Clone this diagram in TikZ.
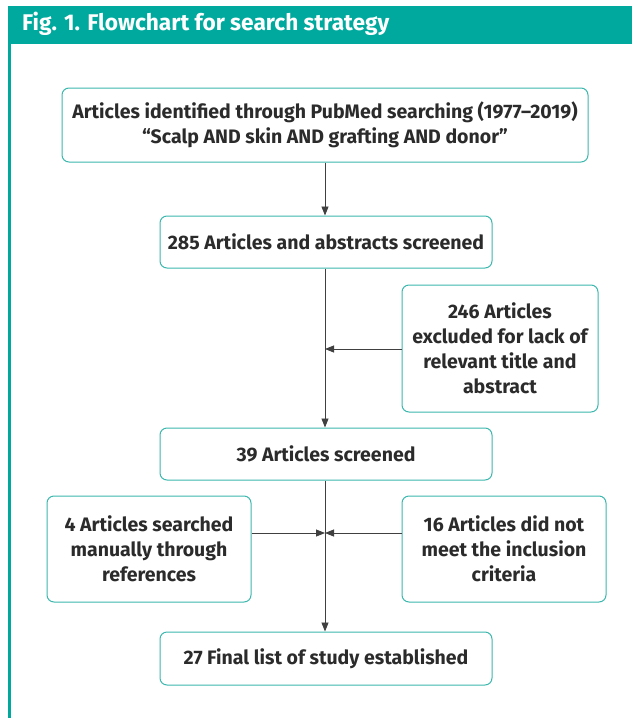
\documentclass[tikz,border=0pt]{standalone}
\usepackage{fontspec}
\setmainfont{Fira Sans}
\usetikzlibrary{arrows.meta}
\definecolor{teal1}{HTML}{00A99D}
\definecolor{boxc}{HTML}{3DB8AE}
\definecolor{txt}{HTML}{2B2B2B}
\begin{document}
\begin{tikzpicture}[x=1pt,y=-1pt,
  box/.style={draw=boxc,line width=1pt,rounded corners=7pt,align=center,text=txt,font=\fontsize{19.5}{25}\selectfont\bfseries,inner sep=0pt},
  conn/.style={draw=txt!90,line width=0.8pt},
  arr/.style={conn,-{Triangle[length=9pt,width=7pt]}}]
\useasboundingbox (0,0) rectangle (632,718);
\fill[white] (0,0) rectangle (632,718);
\fill[teal1] (8,6) rectangle (632,44);
\node[anchor=west,text=white,font=\fontsize{22.7}{26}\selectfont\bfseries,inner sep=0pt] (title) at (22,24) {Fig. 1. Flowchart for search strategy};
\fill[teal1] (8,44) rectangle (10.5,718);
\node[box,minimum width=526pt,minimum height=74pt] (b1) at (325,125) {Articles identified through PubMed searching (1977–2019)\\“Scalp AND skin AND grafting AND donor”};
\node[box,minimum width=332pt,minimum height=52pt] (b2) at (326,242) {285 Articles and abstracts screened};
\node[box,minimum width=196pt,minimum height=127pt] (b3) at (500,348.5) {246 Articles\\excluded for lack of\\relevant title and\\abstract};
\node[box,minimum width=332pt,minimum height=52pt] (b4) at (326,454) {39 Articles screened};
\node[box,minimum width=204pt,minimum height=106pt] (b5) at (149,549) {4 Articles searched\\manually through\\references};
\node[box,minimum width=204pt,minimum height=106pt] (b6) at (504,549) {16 Articles did not\\meet the inclusion\\criteria};
\node[box,minimum width=332pt,minimum height=53pt] (b7) at (326,658.5) {27 Final list of study established};
\coordinate (c1) at (325,349);
\coordinate (c2) at (325,533);
\draw[arr] (b1.south -| c1) -- (b2.north -| c1);
\draw[arr] (b2.south -| c1) -- (b4.north -| c1);
\draw[arr] (b4.south -| c1) -- (b7.north -| c1);
\draw[arr] (b3.west |- c1) -- (c1);
\draw[arr] (b5.east |- c2) -- (c2);
\draw[arr] (b6.west |- c2) -- (c2);
\end{tikzpicture}
\end{document}
